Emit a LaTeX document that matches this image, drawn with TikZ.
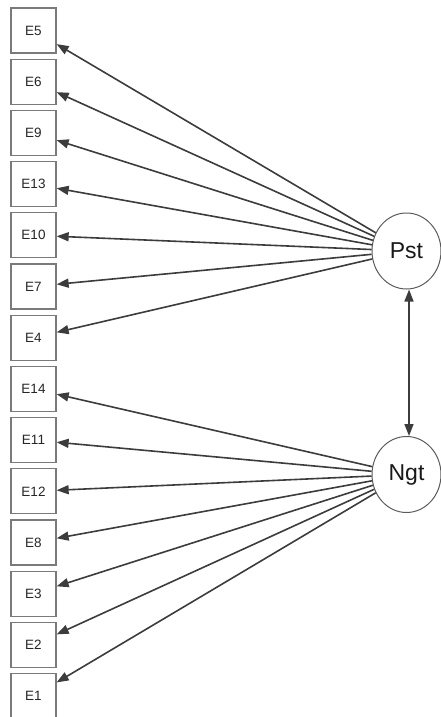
\documentclass[tikz,border=0pt]{standalone}
\usepackage{fontspec}
\setmainfont{Liberation Sans}
\usetikzlibrary{arrows.meta,shapes.geometric}
\definecolor{boxc}{HTML}{7A7A7A}
\definecolor{linec}{HTML}{3C3C3C}
\definecolor{circc}{HTML}{5A5A5A}
\begin{document}
\begin{tikzpicture}[x=1pt,y=-1pt,
  ind/.style={draw=boxc,line width=1.3pt,minimum width=45pt,minimum height=45pt,inner sep=0pt,font=\fontsize{13.5}{16}\selectfont,text=black!85},
  lat/.style={ellipse,draw=circc,line width=1pt,minimum width=69pt,minimum height=76pt,inner sep=0pt,font=\fontsize{23}{27}\selectfont,text=black!90},
  load/.style={draw=linec,line width=1.6pt,-{Triangle[length=12pt,width=9pt]}},
  cov/.style={draw=linec,line width=1.6pt,{Triangle[length=12pt,width=9pt]}-{Triangle[length=12pt,width=9pt]}}]
\useasboundingbox (0,0) rectangle (441,717);
\clip (0,0) rectangle (441,717);
\node[lat] (P) at (406.5,251) {Pst};
\node[lat] (N) at (406.5,474.5) {Ngt};
\foreach \name [count=\i from 0] in {E5,E6,E9,E13,E10,E7,E4,E14,E11,E12,E8,E3,E2,E1}{
  \node[ind] (\name) at (33.5,{30.5+51.2*\i}) {\name};
}
\foreach \name in {E5,E6,E9,E13,E10,E7,E4}{
  \draw[load] (P) -- (\name);
}
\foreach \name in {E14,E11,E12,E8,E3,E2,E1}{
  \draw[load] (N) -- (\name);
}
\draw[cov] ([xshift=2.5pt]P.south) -- ([xshift=2.5pt]N.north);
\end{tikzpicture}
\end{document}
